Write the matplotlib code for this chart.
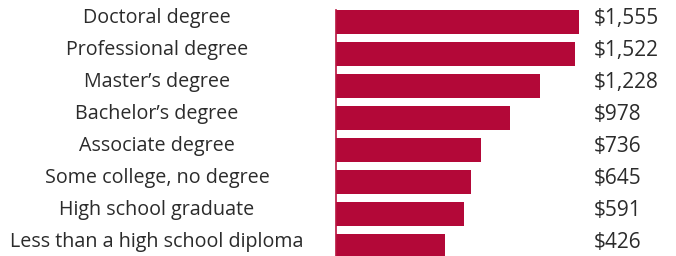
import matplotlib.pyplot as plt
import matplotlib.transforms as mtransforms
import numpy as np

categories = ["Doctoral degree", "Professional degree", "Master\u2019s degree",
              "Bachelor\u2019s degree", "Associate degree", "Some college, no degree",
              "High school graduate", "Less than a high school diploma"]
earnings = [1555, 1522, 1228, 978, 736, 645, 591, 426]
value_labels = ["$1,555", "$1,522", "$1,228", "$978", "$736", "$645", "$591", "$426"]

BAR = "#b30838"
TEXT = "#2b2b2b"
BASE = 485  # the original bars do not start at zero

plt.rcParams['font.family'] = ['Open Sans', 'DejaVu Sans']

fig = plt.figure(figsize=(6.76, 2.56), dpi=100)
ax = fig.add_axes([336 / 676, 0, 243 / 676, 1 - 10 / 256])

y = np.arange(len(categories))
vals = np.array(earnings)
ax.barh(y, vals + BASE, left=-BASE, height=0.75, color=BAR)
ax.set_xlim(-BASE, 1555)
ax.set_ylim(-0.375 + 246 / 32, -0.375)

for s in ["top", "right", "bottom"]:
    ax.spines[s].set_visible(False)
ax.spines["left"].set_color("#b8143f")
ax.spines["left"].set_linewidth(1.2)
ax.set_xticks([])
ax.set_yticks([])

trans = mtransforms.blended_transform_factory(fig.transFigure, ax.transData)
for i in range(len(categories)):
    ax.text(157 / 676, y[i] - 0.12, categories[i], transform=trans, ha="center",
            va="center", fontsize=14.2, color=TEXT, clip_on=False)
    ax.text(594 / 676, y[i] - 0.12, value_labels[i], transform=trans, ha="left",
            va="center", fontsize=15, color=TEXT, clip_on=False)

fig.savefig("out.png", dpi=100)
